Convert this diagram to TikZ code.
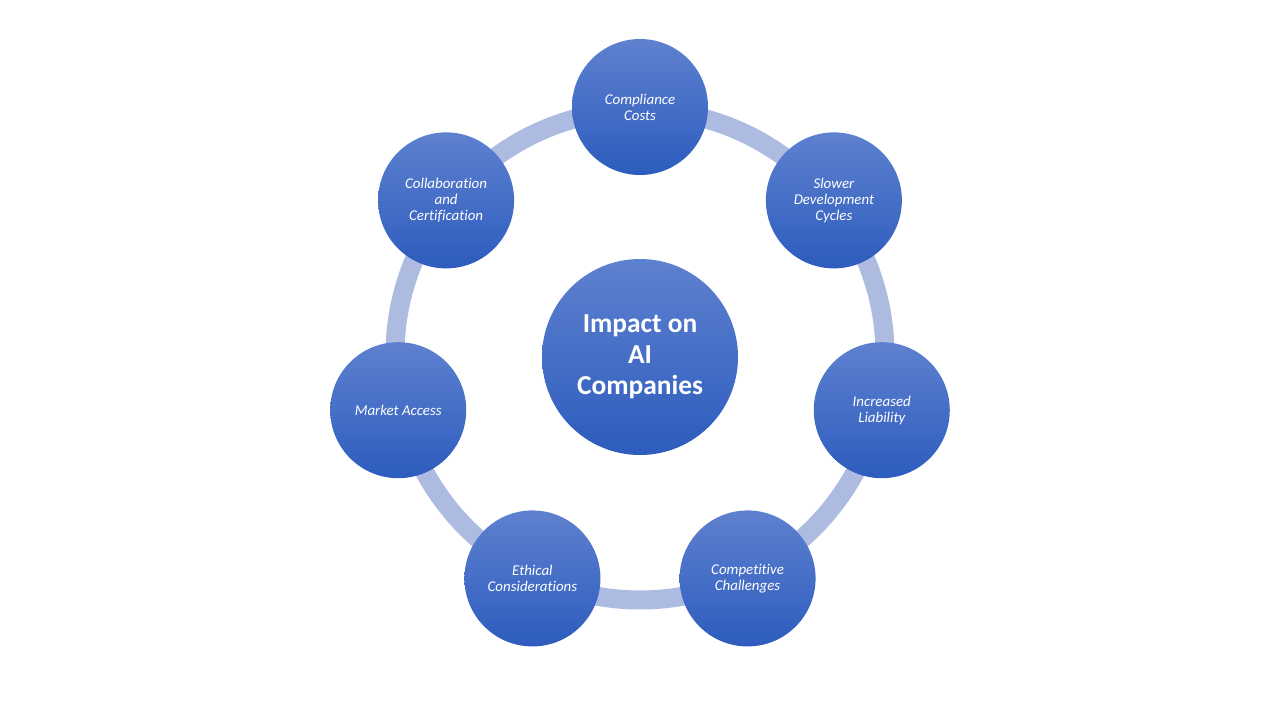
\documentclass[tikz,border=0pt]{standalone}
\usepackage{fontspec}
\setmainfont[Ligatures=NoCommon]{Carlito}
\usepackage{xcolor}
\usepackage{tikz}
\usetikzlibrary{positioning, calc}

\definecolor{ringblue}{RGB}{174,187,224}
\definecolor{topblue}{RGB}{94,129,207}
\definecolor{botblue}{RGB}{45,92,190}

\begin{document}
\begin{tikzpicture}[
    % circle styles
    bubble/.style={circle, minimum size=2.72cm, inner sep=0pt, align=center,
        top color=topblue, bottom color=botblue, draw=none, text=white,
        font=\fontsize{8.5}{9.1}\selectfont\itshape},
    hubbubble/.style={bubble, minimum size=3.92cm,
        font=\fontsize{15.6}{17.6}\selectfont\bfseries},
    % ring behind the circles
    ring/.style={draw=ringblue, line width=0.38cm}
]
\useasboundingbox (0,0) rectangle (25.6,14.4);

% centre
\coordinate (mid) at (12.8,7.3);
\draw[ring] (mid) circle (4.9cm);
\node[hubbubble] (hub) at ($(mid)+(0,-0.04)$) {Impact on\\AI\\Companies};

% outer circles
\node[bubble] (costs) at ($(mid)+(90:4.96)$) {Compliance\\Costs};
\node[bubble] (cycles) at ($(mid)+(38.57:4.96)$) {Slower\\Development\\Cycles};
\node[bubble] (liability) at ($(mid)+(-12.86:4.96)$) {Increased\\Liability};
\node[bubble] (compete) at ($(mid)+(-64.29:4.96)$) {Competitive\\Challenges};
\node[bubble] (ethics) at ($(mid)+(-115.71:4.96)$) {Ethical\\Considerations};
\node[bubble] (market) at ($(mid)+(-167.14:4.96)$) {Market Access};
\node[bubble] (certify) at ($(mid)+(141.43:4.96)$) {Collaboration\\and\\Certification};

\end{tikzpicture}
\end{document}
